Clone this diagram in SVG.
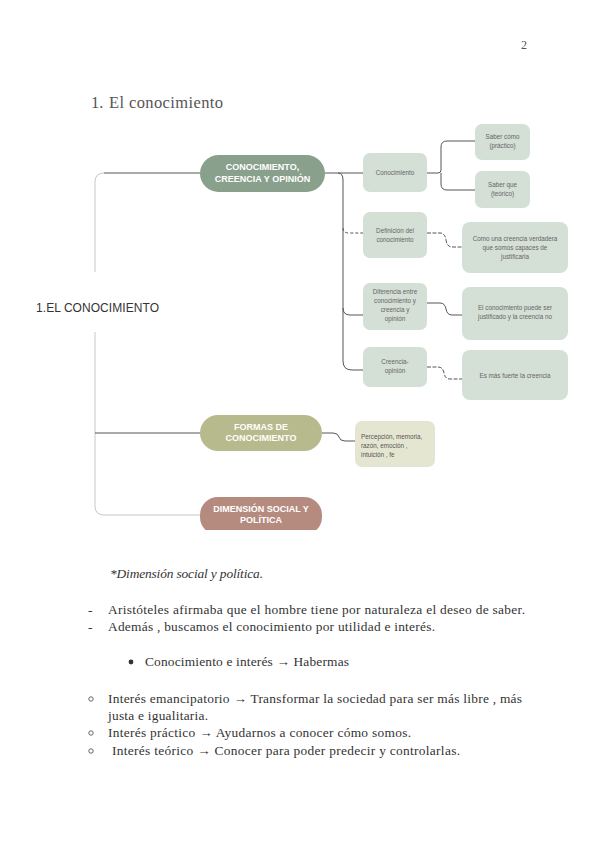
<svg xmlns="http://www.w3.org/2000/svg" width="600" height="848" viewBox="0 0 600 848">
<defs>
<style>
.serif{font-family:"Liberation Serif","DejaVu Serif",serif;fill:#333;font-size:13.4px}
.pill{font-family:"Liberation Sans",Arial,sans-serif;font-weight:bold;fill:#fff;font-size:9px;text-anchor:middle}
.sm{font-family:"Liberation Sans",Arial,sans-serif;fill:#666;font-size:6.3px;text-anchor:middle}
.smL{font-family:"Liberation Sans",Arial,sans-serif;fill:#555;font-size:6.3px}
.lt{fill:#d4dfd6}
.lo{fill:#e5e6d2}
.c{fill:none;stroke:#555;stroke-width:1}
.cl{fill:none;stroke:#c8c8c8;stroke-width:1}
</style>
<clipPath id="cut"><rect x="0" y="0" width="600" height="530"/></clipPath>
</defs>
<rect width="600" height="848" fill="#fff"/>
<text x="521" y="49" class="serif" style="font-size:12px;fill:#555">2</text>
<text x="91" y="108" class="serif" style="font-size:16.5px;fill:#555">1.</text>
<text x="109" y="108" class="serif" style="font-size:16.5px;fill:#555" textLength="114">El conocimiento</text>

<g id="connectors">
<path class="cl" d="M95 272 V182 Q95 173 104 173"/>
<path class="c" d="M104 173 H200"/>
<path class="cl" d="M95 332 V506 Q95 515 104 515 H200"/>
<path class="c" d="M95 433 H200"/>
<path class="c" d="M325 173 H363"/>
<path class="c" d="M338 173 Q343 173 343 180 V361 Q343 370 352 370 H363"/>
<path class="c" d="M343 228 Q343 233 349 233 H363" stroke-dasharray="3 2"/>
<path class="c" d="M343 308 Q343 315 350 315 H363"/>
<path class="c" d="M427 173 H438 Q441 173 441 170 V147 Q441 141 447 141 H475"/>
<path class="c" d="M441 173 V184 Q441 190 447 190 H475"/>
<path class="c" d="M427 233 H440 Q445 233 446 240 Q447 247 452 247 H462" stroke-dasharray="4 1.5"/>
<path class="c" d="M427 303 H440 Q445 303 446 309 Q447 315 452 315 H462"/>
<path class="c" d="M427 367 H438 Q443 367 444 373 Q445 379 450 379 H462" stroke-dasharray="4 1.5"/>
<path class="c" d="M322 433 H333 Q338 433 339 437 Q340 441 345 441 H355"/>
</g>

<g id="root">
<text x="36" y="312" font-family="Liberation Sans,Arial,sans-serif" font-size="12" fill="#333" textLength="123">1.EL CONOCIMIENTO</text>
</g>

<g id="n1">
<rect x="200" y="155" width="125" height="37" rx="18.5" fill="#88a08c"/>
<text x="262.5" y="170" class="pill">CONOCIMIENTO,</text>
<text x="262.5" y="182" class="pill">CREENCIA Y OPINIÓN</text>
</g>
<g id="n2">
<rect x="200" y="415" width="122" height="36" rx="18" fill="#b6ba8c"/>
<text x="261" y="430" class="pill">FORMAS DE</text>
<text x="261" y="441" class="pill">CONOCIMIENTO</text>
</g>
<g id="n3" clip-path="url(#cut)">
<rect x="200" y="497" width="122" height="38" rx="18" fill="#b68b7f"/>
<text x="261" y="512" class="pill">DIMENSIÓN SOCIAL Y</text>
<text x="261" y="523" class="pill">POLÍTICA</text>
</g>

<g id="conocimiento">
<rect x="363" y="153" width="64" height="39" rx="7" class="lt"/>
<text x="395" y="175" class="sm">Conocimiento</text>
</g>
<g id="saber-como">
<rect x="475" y="124" width="55" height="36" rx="7" class="lt"/>
<text x="502.5" y="139" class="sm">Saber cómo</text>
<text x="502.5" y="148" class="sm">(práctico)</text>
</g>
<g id="saber-que">
<rect x="475" y="171" width="55" height="37" rx="7" class="lt"/>
<text x="502.5" y="187" class="sm">Saber que</text>
<text x="502.5" y="196" class="sm">(teórico)</text>
</g>
<g id="definicion">
<rect x="363" y="212" width="64" height="46" rx="7" class="lt"/>
<text x="395" y="233" class="sm">Definición del</text>
<text x="395" y="242" class="sm">conocimiento</text>
</g>
<g id="como-creencia">
<rect x="462" y="222" width="106" height="51" rx="8" class="lt"/>
<text x="515" y="241" class="sm">Como una creencia verdadera</text>
<text x="515" y="250" class="sm">que somos capaces de</text>
<text x="515" y="259" class="sm">justificarla</text>
</g>
<g id="diferencia">
<rect x="363" y="283" width="64" height="47" rx="7" class="lt"/>
<text x="395" y="294" class="sm">Diferencia entre</text>
<text x="395" y="303" class="sm">conocimiento y</text>
<text x="395" y="312" class="sm">creencia y</text>
<text x="395" y="321" class="sm">opinión</text>
</g>
<g id="puede-ser">
<rect x="462" y="287" width="106" height="53" rx="8" class="lt"/>
<text x="515" y="310" class="sm">El conocimiento puede ser</text>
<text x="515" y="319" class="sm">justificado y la creencia no</text>
</g>
<g id="creencia-opinion">
<rect x="363" y="347" width="64" height="40" rx="7" class="lt"/>
<text x="395" y="364" class="sm">Creencia-</text>
<text x="395" y="373" class="sm">opinión</text>
</g>
<g id="mas-fuerte">
<rect x="462" y="350" width="106" height="50" rx="8" class="lt"/>
<text x="515" y="378" class="sm">Es más fuerte la creencia</text>
</g>
<g id="percepcion">
<rect x="355" y="421" width="80" height="46" rx="7" class="lo"/>
<text x="361" y="439" class="smL">Percepción, memoria,</text>
<text x="361" y="448" class="smL">razón, emoción ,</text>
<text x="361" y="457" class="smL">intuición , fe</text>
</g>

<g id="text">
<text x="110" y="578" class="serif" font-style="italic" textLength="153">*Dimensión social y política.</text>
<text x="88" y="614" class="serif">-</text>
<text x="108" y="614" class="serif" textLength="417">Aristóteles afirmaba que el hombre tiene por naturaleza el deseo de saber.</text>
<text x="88" y="631" class="serif">-</text>
<text x="108" y="631" class="serif" textLength="327">Además , buscamos el conocimiento por utilidad e interés.</text>
<circle cx="131" cy="662" r="2.4" fill="#333"/>
<text x="145" y="666" class="serif" textLength="204">Conocimiento e interés → Habermas</text>
<circle cx="91" cy="699" r="2.2" fill="none" stroke="#555" stroke-width="0.9"/>
<text x="108" y="703" class="serif" textLength="414">Interés emancipatorio → Transformar la sociedad para ser más libre , más</text>
<text x="108" y="720" class="serif" textLength="100">justa e igualitaria.</text>
<circle cx="91" cy="733" r="2.2" fill="none" stroke="#555" stroke-width="0.9"/>
<text x="108" y="737" class="serif" textLength="303">Interés práctico → Ayudarnos a conocer cómo somos.</text>
<circle cx="91" cy="751" r="2.2" fill="none" stroke="#555" stroke-width="0.9"/>
<text x="112" y="755" class="serif" textLength="348">Interés teórico → Conocer para poder predecir y controlarlas.</text>
</g>
</svg>
